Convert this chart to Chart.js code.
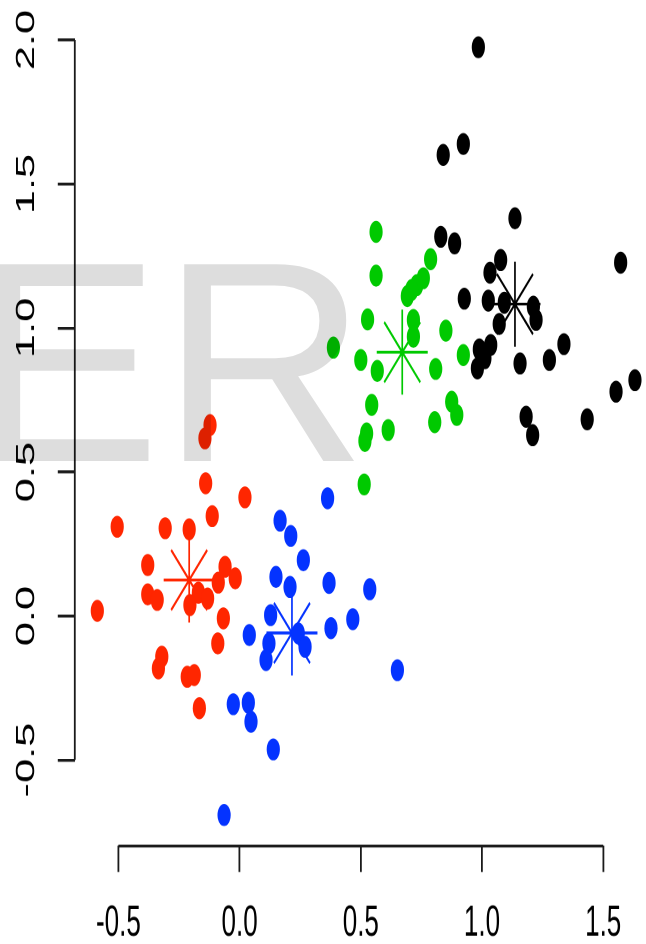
<!DOCTYPE html>
<html>
<head>
<meta charset="utf-8">
<script src="https://cdn.jsdelivr.net/npm/chart.js@4/dist/chart.umd.min.js"></script>
<style>
html,body{margin:0;padding:0;background:#ffffff;overflow:hidden}
#wrap{position:relative;width:646px;height:944px;overflow:hidden}
#c{position:absolute;left:0;top:0;display:block}
#wm{position:absolute;left:-30px;top:219px;font-family:"Liberation Sans",Arial,sans-serif;font-size:286px;line-height:286px;color:rgba(0,0,0,0.135);white-space:nowrap;pointer-events:none}
</style>
</head>
<body>
<div id="wrap">
<canvas id="c" width="646" height="566" style="width:646px;height:944px"></canvas>
<div id="wm">ER</div>
</div>
<script>
// ---- tick values and labels ----
const xTicks = [-0.5, 0, 0.5, 1, 1.5];
const xTickLabels = ['-0.5', '0.0', '0.5', '1.0', '1.5'];
const yTicks = [-0.5, 0, 0.5, 1, 1.5, 2];
const yTickLabels = ['-0.5', '0.0', '0.5', '1.0', '1.5', '2.0'];

// ---- cluster 1 (red) ----
const redX = [-0.122,-0.143,-0.140,0.022,-0.113,-0.505,-0.307,-0.208,-0.379,-0.060,-0.018,-0.088,-0.379,-0.340,-0.170,-0.132,-0.205,-0.587,-0.067,-0.090,-0.321,-0.335,-0.216,-0.187,-0.166];
const redY = [0.663,0.617,0.461,0.412,0.347,0.310,0.305,0.301,0.177,0.171,0.131,0.116,0.075,0.056,0.081,0.061,0.038,0.018,-0.008,-0.095,-0.141,-0.182,-0.211,-0.205,-0.320];

// ---- cluster 2 (blue) ----
const blueX = [0.363,0.167,0.211,0.263,0.150,0.208,0.369,0.537,0.128,0.040,0.377,0.467,0.121,0.109,0.242,0.270,0.651,-0.026,0.036,0.047,0.139,-0.064];
const blueY = [0.409,0.331,0.278,0.194,0.136,0.101,0.115,0.093,0.003,-0.066,-0.042,-0.011,-0.095,-0.153,-0.060,-0.107,-0.188,-0.306,-0.301,-0.367,-0.463,-0.691];

// ---- cluster 3 (green) ----
const greenX = [0.563,0.563,0.788,0.758,0.731,0.710,0.692,0.528,0.717,0.717,0.387,0.851,0.500,0.568,0.923,0.809,0.545,0.875,0.896,0.613,0.524,0.517,0.805,0.514];
const greenY = [1.334,1.182,1.239,1.173,1.149,1.132,1.111,1.030,1.028,0.970,0.932,0.991,0.889,0.851,0.906,0.858,0.733,0.744,0.698,0.646,0.634,0.608,0.673,0.457];

// ---- cluster 4 (black) ----
const blackX = [0.985,0.923,0.840,1.136,0.830,0.887,1.077,1.033,1.572,0.927,1.026,1.092,1.212,1.223,1.071,1.036,0.989,1.012,0.981,1.157,1.278,1.338,1.631,1.553,1.182,1.209,1.434];
const blackY = [1.975,1.639,1.601,1.381,1.317,1.294,1.236,1.192,1.227,1.102,1.095,1.088,1.074,1.028,1.014,0.941,0.926,0.895,0.860,0.877,0.889,0.944,0.819,0.779,0.692,0.628,0.683];

// ---- cluster centres (stars) ----
const centerX = [-0.208, 0.216, 0.671, 1.136];
const centerY = [0.125, -0.059, 0.916, 1.083];

// ---- appearance ----
const RED = '#FF2600', BLUE = '#0433FF', GREEN = '#00C900', BLACK = '#000000';
const centerColors = [RED, BLUE, GREEN, BLACK];

// ---- layout (canvas drawn at 646x566, displayed stretched to 646x944) ----
const CW = 646, CH = 566, SY = 944 / 566;
const X_MIN = -0.6799, X_MAX = 1.6766;
const Y_MIN = -0.7986, Y_MAX = 2.1389;
const Y_AXIS_W = 74.8;
const X_AXIS_H = CH - 846 / SY;

const pts = (xs, ys) => xs.map((x, i) => ({ x: x, y: ys[i] }));

const axisLines = {
  id: 'axisLines',
  afterDraw(chart) {
    const { ctx, chartArea } = chart;
    const xs = chart.scales.x, ys = chart.scales.y;
    ctx.save();
    ctx.strokeStyle = '#1a1a1a';
    ctx.lineWidth = 1.8;
    ctx.beginPath();
    ctx.moveTo(chartArea.left, ys.getPixelForValue(yTicks[0]));
    ctx.lineTo(chartArea.left, ys.getPixelForValue(yTicks[yTicks.length - 1]));
    ctx.moveTo(xs.getPixelForValue(xTicks[0]), chartArea.bottom);
    ctx.lineTo(xs.getPixelForValue(xTicks[xTicks.length - 1]), chartArea.bottom);
    ctx.stroke();
    ctx.restore();
  }
};

const dotOpts = { pointRadius: 6.6, pointBorderWidth: 0, pointHoverRadius: 6.6, order: 1 };

new Chart(document.getElementById('c'), {
  type: 'scatter',
  data: {
    datasets: [
      Object.assign({ label: 'Cluster 1', data: pts(redX, redY), pointBackgroundColor: RED, pointBorderColor: RED }, dotOpts),
      Object.assign({ label: 'Cluster 2', data: pts(blueX, blueY), pointBackgroundColor: BLUE, pointBorderColor: BLUE }, dotOpts),
      Object.assign({ label: 'Cluster 3', data: pts(greenX, greenY), pointBackgroundColor: GREEN, pointBorderColor: GREEN }, dotOpts),
      Object.assign({ label: 'Cluster 4', data: pts(blackX, blackY), pointBackgroundColor: BLACK, pointBorderColor: BLACK }, dotOpts),
      {
        label: 'Centres', data: pts(centerX, centerY), pointStyle: 'star',
        pointRadius: 25.5, pointHoverRadius: 25.5, pointBorderWidth: 1.7,
        pointBorderColor: centerColors, pointBackgroundColor: 'rgba(0,0,0,0)', order: 2
      }
    ]
  },
  options: {
    responsive: false,
    devicePixelRatio: 2,
    animation: false,
    events: [],
    layout: { padding: 0, autoPadding: false },
    plugins: { legend: { display: false }, tooltip: { enabled: false } },
    scales: {
      x: {
        type: 'linear', position: 'bottom', min: X_MIN, max: X_MAX,
        afterBuildTicks: s => { s.ticks = xTicks.map(v => ({ value: v })); },
        afterFit: s => { s.height = X_AXIS_H; s.paddingLeft = 0; s.paddingRight = 0; },
        grid: { display: true, drawOnChartArea: false, drawTicks: true, tickLength: 15.6, color: '#1a1a1a', lineWidth: 1.8 },
        border: { display: false },
        ticks: {
          autoSkip: false, maxRotation: 0, minRotation: 0, padding: 15.6, color: '#000000',
          font: { family: '"Liberation Sans", Arial, sans-serif', size: 26 },
          callback: (v, i) => xTickLabels[i]
        }
      },
      y: {
        type: 'linear', position: 'left', min: Y_MIN, max: Y_MAX,
        afterBuildTicks: s => { s.ticks = yTicks.map(v => ({ value: v })); },
        afterFit: s => { s.width = Y_AXIS_W; s.paddingTop = 0; s.paddingBottom = 0; },
        grid: { display: true, drawOnChartArea: false, drawTicks: true, tickLength: 17, color: '#1a1a1a', lineWidth: 1.8 },
        border: { display: false },
        ticks: {
          autoSkip: false, minRotation: 90, maxRotation: 90, crossAlign: 'center', padding: 8.4, color: '#000000',
          font: { family: '"Liberation Sans", Arial, sans-serif', size: 26 },
          callback: (v, i) => yTickLabels[i]
        }
      }
    }
  },
  plugins: [axisLines]
});
</script>
</body>
</html>
